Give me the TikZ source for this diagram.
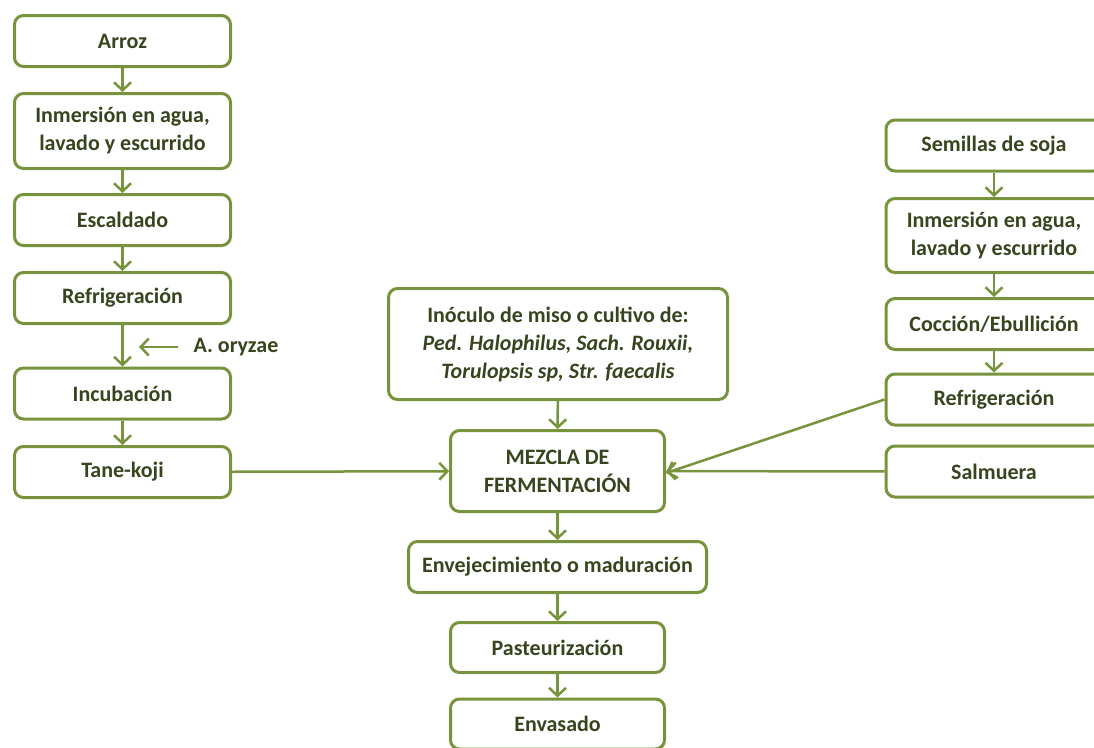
\documentclass[tikz,border=0pt]{standalone}
\usepackage{fontspec}
\setmainfont{Carlito}
\usepackage{xcolor}
\usetikzlibrary{arrows.meta}
\definecolor{misogreen}{RGB}{119,147,60}
\definecolor{misotext}{RGB}{56,68,30}

\begin{document}
\begin{tikzpicture}[
        x=1pt, y=-1pt,
        every node/.style = {font=\fontsize{22}{28}\selectfont\bfseries, text=misotext, align=center},
        stepbox/.style = {draw=misogreen, line width=3pt, rounded corners=9pt, inner sep=2pt,
                          minimum width=216pt, minimum height=51pt},
        flow/.style = {draw=misogreen, line width=2.5pt, -{Straight Barb[length=8pt,width=17pt]}},
      ]
      \useasboundingbox (0,0) rectangle (1094,747);

      % arroz
      \node[stepbox] (arroz)   at (122.5,41)  {Arroz};
      \node[stepbox, minimum height=75pt] (inmarroz) at (122.5,131) {Inmersión en agua,\\lavado y escurrido};
      \node[stepbox] (escaldado) at (122.5,220) {Escaldado};
      \node[stepbox] (refriarroz) at (122.5,298) {Refrigeración};
      \node[stepbox] (incubacion) at (122.5,393.5) {Incubación};
      \node[stepbox] (tanekoji) at (122.5,472) {Tane-koji};
      \node[inner sep=0pt] (oryzae) at (236,347) {A. oryzae};
      \coordinate (oryzaetip) at (139,347);

      % soja
      \node[stepbox] (semillas) at (994,145.5) {Semillas de soja};
      \node[stepbox, minimum height=74pt] (inmsoja) at (994,235.5) {Inmersión en agua,\\lavado y escurrido};
      \node[stepbox] (coccion) at (994,324) {Cocción/Ebullición};
      \node[stepbox] (refrisoja) at (994,399.5) {Refrigeración};
      \node[stepbox] (salmuera) at (994,471.5) {Salmuera};

      % centro
      \node[stepbox, minimum width=339pt, minimum height=111pt] (inoculo) at (558,344)
        {Inóculo de miso o cultivo de:\\\itshape Ped. Halophilus, Sach. Rouxii,\\\itshape Torulopsis sp, Str. faecalis};
      \node[stepbox, minimum width=214pt, minimum height=81pt] (mezcla) at (557.5,471) {MEZCLA DE\\FERMENTACIÓN};
      \node[stepbox, minimum width=298pt] (envejec) at (557.5,567) {Envejecimiento o maduración};
      \node[stepbox, minimum width=214pt, minimum height=50pt] (pasteur) at (557.5,647.5) {Pasteurización};
      \node[stepbox, minimum width=214pt, minimum height=50pt] (envasado) at (557.5,724) {Envasado};

      \draw[flow] (arroz) -- (inmarroz);
      \draw[flow] (inmarroz) -- (escaldado);
      \draw[flow] (escaldado) -- (refriarroz);
      \draw[flow] (refriarroz) -- (incubacion);
      \draw[flow] (incubacion) -- (tanekoji);
      \draw[flow] ([xshift=-15pt]oryzae.west) -- (oryzaetip);

      \draw[flow] (semillas) -- (inmsoja);
      \draw[flow] (inmsoja) -- (coccion);
      \draw[flow] (coccion) -- (refrisoja);

      \draw[flow] (tanekoji) -- (mezcla);
      \draw[flow] (salmuera) -- (mezcla);
      \draw[flow] (refrisoja.west) -- ([yshift=-2pt]mezcla.east);
      \draw[flow] (inoculo) -- (mezcla);
      \draw[flow] (mezcla) -- (envejec);
      \draw[flow] (envejec) -- (pasteur);
      \draw[flow] (pasteur) -- (envasado);
    \end{tikzpicture}
\end{document}
